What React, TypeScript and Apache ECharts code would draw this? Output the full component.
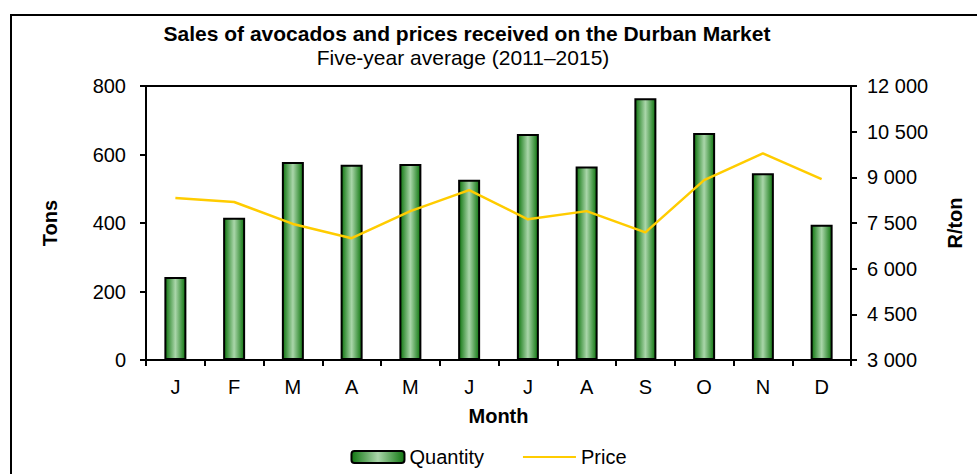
import React, { useEffect, useRef } from "react";
import * as echarts from "echarts";

const months = ["J", "F", "M", "A", "M", "J", "J", "A", "S", "O", "N", "D"];
const quantity = [242, 415, 578, 570, 572, 526, 660, 565, 764, 663, 545, 395];
const price = [8320, 8190, 7470, 7000, 7890, 8580, 7620, 7890, 7190, 8910, 9790, 8940];

const FONT = "Liberation Sans, Arial, sans-serif";

function fmtThousands(v: number): string {
  const s = String(Math.round(v));
  return s.replace(/\B(?=(\d{3})+(?!\d))/g, " ");
}

export default function App() {
  const ref = useRef<HTMLDivElement>(null);
  useEffect(() => {
    if (!ref.current) return;
    const chart = echarts.init(ref.current, undefined, { renderer: "svg" });
    const barGradient = new echarts.graphic.LinearGradient(0, 0, 1, 0, [
      { offset: 0, color: "#107610" },
      { offset: 0.5, color: "#aad6aa" },
      { offset: 1, color: "#107610" },
    ]);
    chart.setOption({
      animation: false,
      textStyle: { fontFamily: FONT, color: "#000" },
      graphic: [
        {
          type: "rect",
          shape: { x: 11, y: 15, width: 1100, height: 600 },
          style: { fill: "none", stroke: "#000", lineWidth: 2 },
          silent: true,
        },
        {
          type: "text",
          x: 467,
          y: 33,
          style: {
            text: "Sales of avocados and prices received on the Durban Market",
            fontFamily: FONT,
            fontSize: 21,
            fontWeight: "bold",
            fill: "#000",
            align: "center",
            verticalAlign: "middle",
          },
        },
        {
          type: "text",
          x: 463,
          y: 57,
          style: {
            text: "Five-year average (2011–2015)",
            fontFamily: FONT,
            fontSize: 21,
            fill: "#000",
            align: "center",
            verticalAlign: "middle",
          },
        },
      ],
      grid: {
        left: 146,
        right: 126,
        top: 86,
        bottom: 114,
        show: true,
        borderColor: "#000",
        borderWidth: 2,
        backgroundColor: "transparent",
      },
      legend: {
        bottom: 2,
        left: "center",
        itemWidth: 53,
        itemHeight: 12,
        itemGap: 38,
        textStyle: { fontFamily: FONT, fontSize: 20, color: "#000" },
        data: [
          { name: "Quantity" },
          { name: "Price", itemStyle: { opacity: 0 } },
        ],
      },
      xAxis: {
        type: "category",
        data: months,
        name: "Month",
        nameLocation: "middle",
        nameGap: 46,
        nameTextStyle: { fontFamily: FONT, fontSize: 20, fontWeight: "bold", color: "#000" },
        axisLine: { lineStyle: { color: "#000", width: 2 } },
        axisTick: { show: true, alignWithLabel: false, length: 6, lineStyle: { color: "#000", width: 2 } },
        axisLabel: { fontFamily: FONT, fontSize: 20, color: "#000", margin: 17 },
      },
      yAxis: [
        {
          type: "value",
          min: 0,
          max: 800,
          interval: 200,
          name: "Tons",
          nameLocation: "middle",
          nameRotate: 90,
          nameGap: 86,
          nameTextStyle: { fontFamily: FONT, fontSize: 20, fontWeight: "bold", color: "#000" },
          axisLine: { show: true, lineStyle: { color: "#000", width: 2 } },
          axisTick: { show: true, length: 6, lineStyle: { color: "#000", width: 2 } },
          axisLabel: { fontFamily: FONT, fontSize: 20, color: "#000", margin: 20 },
          splitLine: { show: false },
        },
        {
          type: "value",
          min: 3000,
          max: 12000,
          interval: 1500,
          position: "right",
          name: "R/ton",
          nameLocation: "middle",
          nameRotate: 90,
          nameGap: 94,
          nameTextStyle: { fontFamily: FONT, fontSize: 20, fontWeight: "bold", color: "#000" },
          axisLine: { show: true, lineStyle: { color: "#000", width: 2 } },
          axisTick: { show: true, length: 6, lineStyle: { color: "#000", width: 2 } },
          axisLabel: {
            fontFamily: FONT,
            fontSize: 20,
            color: "#000",
            margin: 16,
            formatter: (v: number) => fmtThousands(v),
          },
          splitLine: { show: false },
        },
      ],
      series: [
        {
          name: "Quantity",
          type: "bar",
          data: quantity,
          yAxisIndex: 0,
          barWidth: 22,
          itemStyle: { color: barGradient, borderColor: "#000", borderWidth: 2 },
        },
        {
          name: "Price",
          type: "line",
          data: price,
          yAxisIndex: 1,
          symbol: "none",
          lineStyle: { color: "#FFCC00", width: 2.5 },
          itemStyle: { color: "#FFCC00" },
        },
      ],
    });
    return () => chart.dispose();
  }, []);
  return (
    <div
      ref={ref}
      style={{ position: "absolute", left: 0, top: 0, width: 977, height: 474 }}
    />
  );
}
